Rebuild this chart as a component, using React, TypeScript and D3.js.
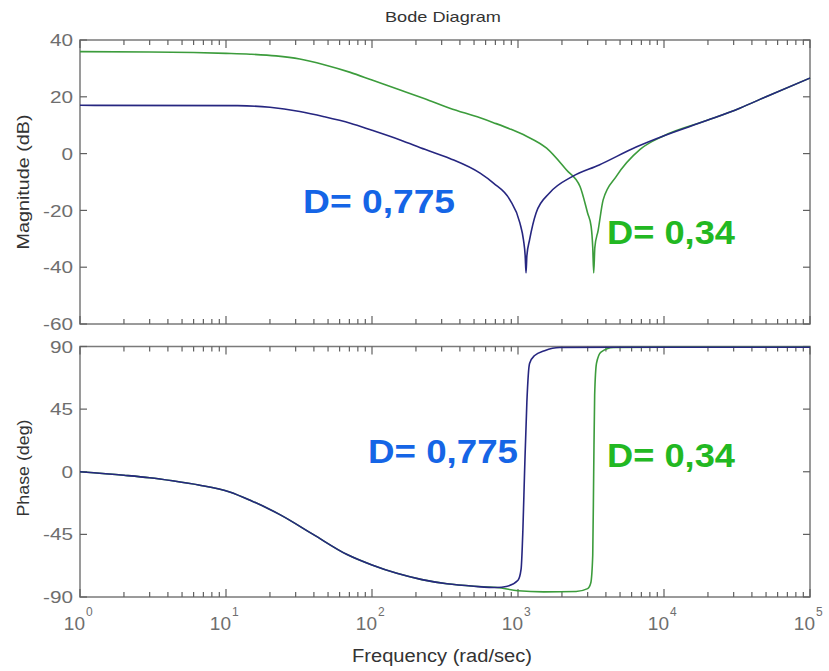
import React, { useEffect, useRef } from 'react';
import * as d3 from 'd3';

// magnitude (dB)
const magFreqBlue = [1, 12, 20, 32, 47, 71, 100, 156, 230, 341, 550, 679, 880, 1030, 1090, 1120, 1135, 1150, 1200, 1330, 1650, 2350, 3600, 6500, 10000, 20000, 33000, 50000, 100000];
const magBlue = [17, 16.9, 16.3, 14.8, 13, 10.7, 8.2, 4.8, 1.5, -1.7, -6.9, -10.4, -16.3, -24.4, -30.4, -36, -42, -36, -30.4, -20.9, -13.8, -8.1, -4, 2.4, 6.3, 11.8, 16, 20, 26.6];

const magFreqGreen = [1, 3, 6, 10, 14.6, 22, 32, 47, 71, 100, 156, 230, 341, 550, 679, 880, 1135, 1570, 2150, 2660, 3000, 3170, 3250, 3300, 3360, 3540, 3830, 4700, 6860, 10000, 20000, 33000, 50000, 100000];
const magGreen = [35.9, 35.8, 35.6, 35.3, 35, 34.4, 33.3, 31.3, 28.6, 25.9, 22.4, 19.3, 16, 12.6, 10.9, 8.7, 6.2, 1.9, -5.8, -11.6, -21, -25.7, -33, -42, -33, -27, -16.3, -8.1, 1.5, 6.3, 11.8, 16, 20, 26.6];

// phase (deg)
const phaseFreqBlue = [1, 2, 3, 4.3, 6.5, 10.6, 15, 23.4, 39.5, 67.5, 100, 148, 220, 326, 500, 719, 830, 1000, 1050, 1080, 1110, 1150, 1200, 1300, 1520, 1930, 10000, 100000];
const phaseBlue = [0, -2.5, -4.3, -6.5, -9.5, -14.5, -21, -30.8, -45, -59.5, -67, -73, -77.5, -80.5, -82.3, -83.2, -82.5, -78, -70, -42, 1, 50, 77.8, 83.5, 87, 89.3, 89.5, 89.5];

const phaseFreqGreen = [1, 2, 3, 4.3, 6.5, 10.6, 15, 23.4, 39.5, 67.5, 100, 148, 220, 326, 500, 719, 1000, 1500, 2500, 3000, 3150, 3250, 3300, 3350, 3450, 3700, 4500, 10000, 100000];
const phaseGreen = [0, -2.5, -4.3, -6.5, -9.5, -14.5, -21, -30.8, -45, -59.5, -67, -73, -77.5, -80.5, -82.3, -83.2, -85.5, -86.3, -86, -84, -80, -60, 0, 55, 78, 86, 89.3, 89.5, 89.5];

const magTicks = [-60, -40, -20, 0, 20, 40];
const phaseTicks = [-90, -45, 0, 45, 90];
const decades = [0, 1, 2, 3, 4, 5];

const labels = [
  { panel: 'mag', text: 'D= 0,775', f: 33.7, v: -20.9, color: '#1565e6', len: 152 },
  { panel: 'mag', text: 'D= 0,34', f: 4070, v: -31.8, color: '#22b822', len: 128 },
  { panel: 'phase', text: 'D= 0,775', f: 93.9, v: 6.4, color: '#1565e6', len: 150 },
  { panel: 'phase', text: 'D= 0,34', f: 4070, v: 3.6, color: '#22b822', len: 128 },
];

const W = 829;
const H = 671;
const left = 80;
const right = 810;

export default function App() {
  const ref = useRef<SVGSVGElement>(null);

  useEffect(() => {
    const svg = d3.select(ref.current);
    svg.selectAll('*').remove();

    const x = d3.scaleLog().domain([1, 1e5]).range([left, right]);
    const yMag = d3.scaleLinear().domain([-60, 40]).range([324, 40]);
    const yPh = d3.scaleLinear().domain([-90, 90]).range([597, 346.5]);

    const minor: number[] = [];
    for (let d = 0; d < 5; d++) for (let k = 2; k < 10; k++) minor.push(k * 10 ** d);

    const font = 'Arial, "Liberation Sans", sans-serif';
    const gray = '#7a7a7a';
    const tickColor = '#606060';

    const drawPanel = (y: d3.ScaleLinear<number, number>, ticks: number[]) => {
      const [y1, y0] = y.range();
      const g = svg.append('g');
      g.append('rect')
        .attr('x', left).attr('y', y0)
        .attr('width', right - left).attr('height', y1 - y0)
        .attr('fill', 'white').attr('stroke', gray).attr('stroke-width', 1.5);

      // x ticks, top and bottom, inward
      const tick = (f: number, len: number) => {
        g.append('line').attr('x1', x(f)).attr('x2', x(f)).attr('y1', y1).attr('y2', y1 - len)
          .attr('stroke', tickColor).attr('stroke-width', 1.2);
        g.append('line').attr('x1', x(f)).attr('x2', x(f)).attr('y1', y0).attr('y2', y0 + len)
          .attr('stroke', tickColor).attr('stroke-width', 1.2);
      };
      minor.forEach(f => tick(f, 5));
      decades.forEach(d => tick(10 ** d, 8));

      // y ticks, left and right
      ticks.forEach(t => {
        g.append('line').attr('x1', left).attr('x2', left + 7).attr('y1', y(t)).attr('y2', y(t))
          .attr('stroke', tickColor).attr('stroke-width', 1.2);
        g.append('line').attr('x1', right).attr('x2', right - 7).attr('y1', y(t)).attr('y2', y(t))
          .attr('stroke', tickColor).attr('stroke-width', 1.2);
        g.append('text')
          .attr('transform', `translate(${left - 7},${y(t)}) scale(1.22,1)`)
          .attr('dy', '0.36em')
          .attr('text-anchor', 'end')
          .attr('font-family', font).attr('font-size', 17).attr('fill', '#6e6e6e')
          .text(t);
      });
    };

    drawPanel(yMag, magTicks);
    drawPanel(yPh, phaseTicks);

    // x tick labels, 10 with exponent
    decades.forEach(d => {
      svg.append('text')
        .attr('x', x(10 ** d) + 5).attr('y', 630)
        .attr('text-anchor', 'end')
        .attr('font-family', font).attr('font-size', 19).attr('fill', '#6e6e6e')
        .text('10');
      svg.append('text')
        .attr('x', x(10 ** d) + 6).attr('y', 616)
        .attr('font-family', font).attr('font-size', 12).attr('fill', '#6e6e6e')
        .text(d);
    });

    const series = [
      { y: yMag, f: magFreqGreen, v: magGreen, color: '#3c9c3c' },
      { y: yMag, f: magFreqBlue, v: magBlue, color: '#262680' },
      { y: yPh, f: phaseFreqGreen, v: phaseGreen, color: '#3c9c3c' },
      { y: yPh, f: phaseFreqBlue, v: phaseBlue, color: '#262680' },
    ];

    series.forEach(s => {
      const pts = s.f.map((f, i) => [f, s.v[i]] as [number, number]);
      const line = d3.line<[number, number]>()
        .x(d => x(d[0]))
        .y(d => s.y(d[1]))
        .curve(d3.curveMonotoneX);
      svg.append('path')
        .attr('d', line(pts))
        .attr('fill', 'none')
        .attr('stroke', s.color)
        .attr('stroke-width', 1.6);
    });

    labels.forEach(l => {
      const y = l.panel === 'mag' ? yMag : yPh;
      svg.append('text')
        .attr('x', x(l.f)).attr('y', y(l.v))
        .attr('font-family', font).attr('font-size', 33).attr('font-weight', 'bold')
        .attr('textLength', l.len).attr('lengthAdjust', 'spacingAndGlyphs')
        .attr('fill', l.color)
        .text(l.text);
    });

    // titles
    svg.append('text')
      .attr('x', 443).attr('y', 22).attr('text-anchor', 'middle')
      .attr('font-family', font).attr('font-size', 15).attr('fill', '#333')
      .attr('textLength', 116).attr('lengthAdjust', 'spacingAndGlyphs')
      .text('Bode Diagram');
    svg.append('text')
      .attr('x', 442).attr('y', 662).attr('text-anchor', 'middle')
      .attr('font-family', font).attr('font-size', 18).attr('fill', '#333')
      .attr('textLength', 180).attr('lengthAdjust', 'spacingAndGlyphs')
      .text('Frequency  (rad/sec)');
    svg.append('text')
      .attr('transform', `translate(29, 182) rotate(-90)`)
      .attr('text-anchor', 'middle')
      .attr('font-family', font).attr('font-size', 17).attr('fill', '#333')
      .attr('textLength', 135).attr('lengthAdjust', 'spacingAndGlyphs')
      .text('Magnitude (dB)');
    svg.append('text')
      .attr('transform', `translate(29, 468) rotate(-90)`)
      .attr('text-anchor', 'middle')
      .attr('font-family', font).attr('font-size', 17).attr('fill', '#333')
      .attr('textLength', 97).attr('lengthAdjust', 'spacingAndGlyphs')
      .text('Phase (deg)');
  }, []);

  return (
    <svg
      ref={ref}
      width={W}
      height={H}
      style={{ position: 'absolute', left: 0, top: 0, background: 'white' }}
    />
  );
}
